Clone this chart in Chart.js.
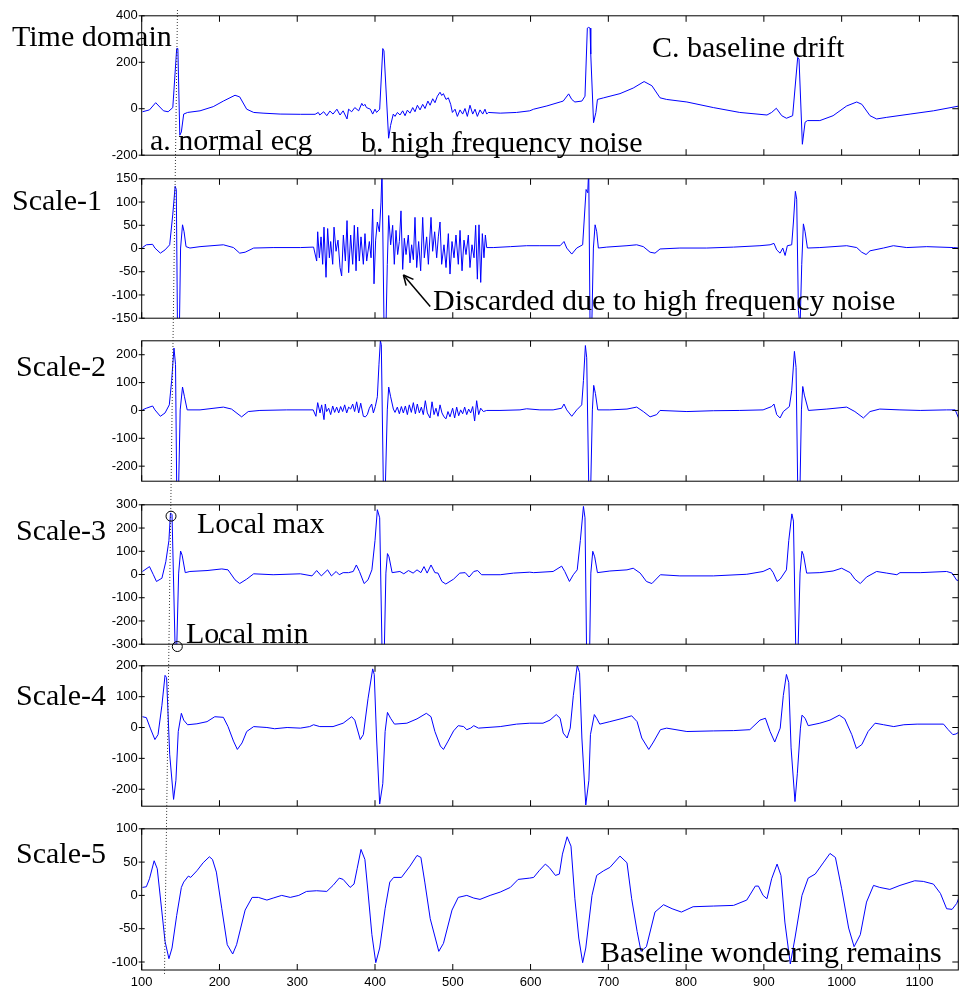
<!DOCTYPE html>
<html>
<head>
<meta charset="utf-8">
<script src="https://cdn.jsdelivr.net/npm/chart.js@4.4.0/dist/chart.umd.min.js"></script>
<style>
  body { margin: 0; background: #fff; width: 960px; height: 989px; position: relative; overflow: hidden; }
  canvas { position: absolute; left: 0; }
  .t { position: absolute; font-family: "Liberation Serif", "Times New Roman", serif; font-size: 30px; line-height: 30px; white-space: nowrap; color: #000; }
</style>
</head>
<body>
<script>
// x ticks shared by all panels
const xTicks = [100, 200, 300, 400, 500, 600, 700, 800, 900, 1000, 1100];

// y tick labels per panel
const timeTicks = [-200, 0, 200, 400];
const s1Ticks = [-150, -100, -50, 0, 50, 100, 150];
const s2Ticks = [-200, -100, 0, 100, 200];
const s3Ticks = [-300, -200, -100, 0, 100, 200, 300];
const s4Ticks = [-200, -100, 0, 100, 200];
const s5Ticks = [-100, -50, 0, 50, 100];

// signals, [sample, value]
const timeDomain = [[101,-13],[110,-5],[118,26],[128,-9],[134,-13],[140,5],[145,259],[146.5,259],[149,-114],[151,-100],[154,-23],[159,-16],[175,-9],[192,9],[205,33],[220,58],[226,51],[235,-2],[244,-16],[256,-19],[278,-23],[304,-24],[323,-24],
  [327,-16],[329,-27],[334,-13],[338,-30],[342,-10],[346,-23],[351,-2],[355,-27],[359,-9],[364,-44],[366,-2],[370,-13],[374,5],[379,-9],[383,23],[385,12],[387,19],[389,5],[394,-2],[397,-23],[400,-2],[402,-16],[406,-2],[410,259],[411.5,249],[417.5,-127],[420,-72],[423.5,-23],
  [425.7,-33],[428.8,-16],[432.1,-27],[435.6,-9],[438.6,-30],[441.6,-6],[445,-19],[448.5,5],[451.4,-13],[454.5,15],[457.9,-5],[461.3,19],[464.3,1],[468,33],[470.8,15],[474.2,43],[477.1,26],[480.2,54],[483.6,71],[485.8,57],[487.9,65],[491.3,40],[494.3,47],[497.3,19],[499.5,-16],[502.9,-2],[505.9,-33],[509.3,-5],[512.7,-23],[515.7,1],[518.7,-33],[522.1,15],[525.6,-23],[528.6,-2],[531.6,-33],[535,-5],[538.5,-23],[541.4,-2],[543.6,-23],[545.7,-16],[561,-19],[582,-16],[599,-9],
  [604,-2],[621,12],[638,29],[642,33],[649,64],[653,40],[657,29],[666,33],[670,54],[673,347],[674.5,350],[676.5,347],[677.4,235],[681,-60],[684,-16],[686,40],[694,47],[715,65],[732,89],[746,117],[756,99],[766.5,47],[775,40],[801,29],[835,5],[869,-16],[904,-27],[910,-16],[916,2],[923,-30],[929,-41],[937,-30],[943.5,221],[945.2,214],[949.5,-153],[953,-58],[956,-51],[972,-51],[989,-30],[1006.5,12],[1019.4,29],[1026,19],[1036.5,-30],[1045,-44],[1058,-37],[1088,-23],[1118,-9],[1151.5,12]];

const scale1 = [[101,2],[106,8],[114,9],[117,1],[124,-10],[130,-3],[136,8],[140,74],[143,134],[144.5,127],[146,-170],[148.5,-170],[150,1],[152.5,51],[154.5,36],[157,4],[162,1],[175,4],[205,8],[218,2],[226,-10],[233,-8],[244,1],[269,2],[304,2],[321,3],
  [325,-27],[326.3,36],[328.4,-20],[330.6,25],[332.7,-34],[334.4,46],[337,-62],[339.1,43],[341.3,-20],[343,15],[345.6,-34],[347.3,46],[349.9,-6],[352.4,18],[355,-41],[357.1,-59],[359.3,29],[361.9,-27],[364,60],[366.1,-52],[368.7,29],[371.3,-34],[373.4,50],[375.6,-48],[377.7,46],[379.8,-27],[382,25],[385,-34],[387.1,32],[389.3,-27],[392.7,15],[394.9,-20],[397,85],[398.7,-76],[400.8,18],[403,57],[405.6,36],[407.7,100],[409,170],[411.6,-170],[414.1,-170],[415.8,-34],[417.6,71],[420.1,8],[422.7,50],[424.8,-34],[427,39],[429.1,-13],[431.3,15],[433.4,81],[435.6,-45],[437.7,22],[439.9,-13],[442.8,29],[445,-31],[447.1,8],[449.3,-24],[451.4,67],[453.6,-41],[456.1,15],[458.7,-48],[461.3,67],[463.4,-20],[466.4,25],[468.6,-34],[472,67],[474.1,-6],[476.7,36],[479.3,-20],[481.4,25],[483.6,57],[485.7,-34],[488.7,8],[491.3,-41],[494.3,32],[496.4,-55],[499,15],[501.6,-20],[504.1,29],[507.1,-34],[509.3,39],[511.9,-48],[514.4,18],[517,-13],[520,29],[522.1,-41],[524.7,8],[527.3,-20],[529.4,50],[531.6,-66],[533.7,51],[535.9,-73],[538,32],[540.1,-20],[541.9,29],[543.6,2],[552,2],[574,4],[595,6],
  [612,6],[638,6],[643,15],[646.5,1],[653,-12],[659.4,1],[667,8],[668.8,57],[671.4,127],[673.5,120],[674.8,170],[676.5,-170],[678.7,-170],[680.8,1],[683,51],[685.1,36],[687.2,1],[698,3],[724,6],[736.5,8],[745,4],[753.7,-8],[760,-10],[766.5,-1],[792,1],[826.5,1],[861,3],[895,6],[908,8],[913,11],[916.5,-3],[920.8,-10],[924.3,1],[927.3,-15],[930.2,6],[935.8,8],[938,57],[940.5,123],[942.2,106],[944.4,-133],[946.5,-170],[948.7,-34],[950.8,53],[953,36],[956,1],[972,2],[1006.5,6],[1019.4,2],[1025.8,-8],[1031.4,-13],[1036.5,-5],[1053.7,1],[1066.5,6],[1083.7,2],[1109.4,4],[1143.7,2],[1151.5,1]];

const scale2 = [[101,2],[106,8],[114,16],[117,2],[124,-21],[130,-9],[135.5,20],[138.5,107],[141.5,224],[143.5,165],[145,-270],[147.5,-270],[149.5,2],[152.5,84],[155,49],[158.5,2],[175,2],[205,12],[215.5,5],[228.5,-23],[237,-4],[252,0],[286.5,2],[320.5,2],
  [324,-21],[326.3,28],[329.3,-9],[331.4,20],[334.4,-33],[336.1,23],[337.8,-4],[340.4,8],[343,-15],[345.6,16],[348.1,-7],[350.7,12],[353.3,-9],[355.8,14],[358.4,-4],[361,20],[363.6,-9],[366.1,12],[368.7,5],[371.3,23],[373.8,-4],[376.4,31],[379,-9],[381.6,26],[385,-21],[387.6,-23],[390.1,-15],[392.7,8],[395.7,23],[397.9,-9],[400.4,14],[403,49],[405.1,166],[406.9,250],[408.1,236],[410.7,-270],[413.3,-270],[415.8,2],[417.6,84],[420.1,49],[423.6,5],
  [425.7,-7],[428.7,12],[431.3,-12],[433.9,14],[436.4,-9],[439,16],[441.6,-15],[444.1,20],[446.7,-7],[449.3,28],[451.9,-12],[454.4,23],[457,-9],[459.6,12],[462.1,-15],[464.7,35],[467.3,-9],[470.7,-27],[473.3,31],[475.9,-15],[478.4,8],[481,-21],[483.6,20],[486.1,-9],[488.7,-23],[491.3,-30],[493.8,-4],[496.4,-23],[499.8,8],[502.4,-27],[505,12],[507.6,-19],[510.1,2],[512.7,-12],[515.3,12],[517.9,-15],[520.4,5],[523,-9],[525.6,14],[528.1,-38],[530.7,35],[533.3,-15],[535.9,8],[539.3,-4],[543.6,0],[560.7,0],[586.4,2],[595,6],
  [612,2],[629,2],[640,8],[643,23],[646.5,2],[653,-21],[659.4,2],[665.8,20],[668,107],[670.5,233],[672.2,189],[674.8,-270],[677.4,-270],[679.5,2],[681.2,90],[683.4,61],[686.4,2],[702,2],[724,5],[736.5,12],[745,-4],[753.7,-23],[762.2,-15],[766.5,0],[801,-4],[835,-1],[869,0],[899,2],[910,14],[913,23],[916.5,-15],[920.8,-27],[925,-4],[932.8,14],[935.8,72],[939.3,212],[941.4,154],[943.5,-270],[946.5,-270],[948.3,2],[950,86],[952.1,55],[957.3,0],[981,5],[1006.5,12],[1017,-4],[1028,-27],[1036.5,-4],[1049,5],[1075,2],[1101,0],[1135,2],[1146,2],[1151.5,-35]];

const scale3 = [[101,13],[110,34],[115,-1],[119,-30],[126,-16],[131,55],[135,146],[137,265],[139,258],[143,-320],[145,-320],[147.5,6],[150,101],[152,83],[156,8],[162,13],[184,17],[203,24],[211,20],[220,-23],[226,-39],[235,-20],[244,3],[269,-1],[304,3],[319,-6],[325,17],[331,-6],[339,20],[344,-6],[350,13],[354,-1],[359,8],[366,8],[372,13],[376,41],[380,13],[386,-39],[391,-23],[396,20],[400,146],[403,279],[406,244],[409,-320],[412,-320],[414,6],[416,90],[418,76],[422,8],[432,13],[437,3],[443,17],[449,6],[454,20],[459,8],[463,34],[467,6],[472,41],[477,8],[481,6],[486,-30],[491,-41],[501,-20],[509,6],[516,8],[521,-11],[527,13],[532,17],[537,-1],[561,-1],[578,6],[599,10],
  [604,8],[629,13],[640,36],[644,13],[650,-30],[655,-1],[660,20],[664,146],[668,293],[670,244],[672,-320],[676,-320],[677.5,6],[680,100],[682.5,76],[686,8],[702,15],[724,20],[732,27],[741,6],[749,-30],[756,-39],[767,-1],[792,-6],[835,-6],[878,1],[899,13],[908,27],[912,8],[917,-30],[921,-20],[929,20],[932,146],[936,261],[938,230],[941,-320],[944,-320],[946.5,6],[949,100],[951,83],[955,6],[972,8],[989,15],[1000,27],[1011,8],[1017,-20],[1024,-39],[1032,-11],[1045,13],[1058,6],[1071,-1],[1075,8],[1101,8],[1135,13],[1142,6],[1148,-25],[1152,-25]];

const scale4 = [[101,35],[106,32],[111,-2],[117,-39],[121,-23],[126,72],[130,169],[132,162],[136,-87],[141,-233],[144,-171],[147,-13],[151,46],[154,24],[159,9],[171,12],[184,19],[194,35],[205,33],[211,3],[218,-44],[223,-71],[229,-50],[235,-13],[244,3],[261,0],[271,-4],[287,0],[304,-2],[316,3],[321,9],[329,3],[346,3],[359,14],[370,35],[374,24],[381,-39],[385,-23],[391,93],[397,190],[399,172],[402,-34],[406,-248],[410,-182],[413,-13],[416,49],[420,30],[425,11],[441,14],[454,28],[466,46],[472,35],[477,-13],[484,-60],[488,-71],[494,-44],[501,-11],[507,6],[514,3],[518,-7],[523,-2],[527,6],[533,-2],[544,0],[561,3],[582,11],[599,14],
  [616,14],[625,24],[633,42],[638,30],[642,-18],[647,-34],[651,-2],[655,104],[660,201],[663,178],[666,-34],[671,-251],[675,-171],[677,-23],[682,42],[685,30],[689,11],[702,19],[719,30],[730,38],[737,19],[743,-34],[752,-71],[758,-47],[767,-7],[775,-2],[801,-13],[835,-11],[861,-10],[882,-7],[895,24],[902,30],[908,-13],[914,-47],[921,-2],[925,104],[929,172],[932,146],[935,-66],[940,-240],[943,-150],[947,-2],[949,40],[953,30],[957,6],[972,14],[985,24],[997,40],[1004,28],[1013,-23],[1019,-68],[1026,-55],[1034,-13],[1043,14],[1054,9],[1067,3],[1080,9],[1097,11],[1131,11],[1137,-7],[1143,-23],[1147,-21],[1152,-13]];

const scale5 = [[101,12],[106,13],[110,25],[116,52],[120,40],[126,-25],[130,-69],[135,-95],[139,-79],[145,-30],[151,12],[154,20],[160,29],[163,27],[171,37],[179,49],[187,58],[191,54],[196,35],[203,-20],[210,-74],[217,-88],[222,-74],[233,-22],[242,-3],[250,-3],[261,-7],[269,-4],[280,0],[291,-3],[302,0],[312,6],[325,7],[338,6],[346,15],[354,26],[359,24],[368,12],[373,17],[377,40],[382,69],[387,54],[391,5],[396,-59],[401,-101],[406,-79],[413,-20],[419,20],[424,27],[434,27],[445,44],[454,60],[459,57],[464,20],[471,-35],[482,-84],[488,-72],[499,-22],[507,-3],[518,0],[527,-4],[535,-6],[548,0],[561,5],[574,12],[584,24],[599,26],
  [604,27],[611,37],[619,47],[624,42],[632,30],[637,32],[641,62],[647,88],[652,74],[657,-5],[662,-64],[667,-101],[671,-79],[679,0],[685,30],[694,37],[702,42],[715,59],[724,49],[730,-5],[737,-54],[742,-84],[749,-77],[760,-25],[771,-14],[782,-20],[794,-25],[809,-17],[835,-16],[861,-15],[878,-7],[889,14],[893,14],[899,0],[904,-5],[910,25],[917,47],[922,30],[927,-40],[934,-103],[940,-64],[949,0],[957,26],[966,32],[977,50],[985,63],[992,57],[1000,10],[1009,-49],[1016,-77],[1024,-59],[1032,-10],[1041,15],[1049,12],[1062,9],[1075,15],[1094,22],[1105,21],[1118,17],[1127,3],[1135,-20],[1142,-21],[1148,-12],[1152,0]];

const PAD = 10, XAX = 22, TL = 6;

const panels = [
  { data: timeDomain, min: -200, max: 400, ticks: timeTicks, top: 14, bottom: 157.3 },
  { data: scale1, min: -150, max: 150, ticks: s1Ticks, top: 177.3, bottom: 320 },
  { data: scale2, min: -254, max: 250, ticks: s2Ticks, top: 339.3, bottom: 483.3 },
  { data: scale3, min: -300, max: 300, ticks: s3Ticks, top: 503.3, bottom: 646 },
  { data: scale4, min: -255, max: 200, ticks: s4Ticks, top: 664.3, bottom: 808.3 },
  { data: scale5, min: -112, max: 100, ticks: s5Ticks, top: 827.3, bottom: 970.7 }
];

function seg(ctx, x1, y1, x2, y2) {
  ctx.beginPath(); ctx.moveTo(x1, y1); ctx.lineTo(x2, y2); ctx.stroke();
}

const framePlugin = {
  id: 'frame',
  afterDraw(chart, args, opts) {
    const { ctx, chartArea: a, scales: { x, y } } = chart;
    ctx.save();
    ctx.strokeStyle = '#000';
    ctx.lineWidth = 1;
    ctx.strokeRect(a.left, a.top, a.width, a.height);
    xTicks.forEach(v => {
      const px = x.getPixelForValue(v);
      seg(ctx, px, a.top, px, a.top + TL);
      seg(ctx, px, a.bottom, px, a.bottom - TL);
    });
    y.ticks.forEach(t => {
      const py = y.getPixelForValue(t.value);
      seg(ctx, a.left - 3, py, a.left + 3, py);
      seg(ctx, a.right, py, a.right - TL, py);
    });
    if (opts.extra) opts.extra(chart, ctx);
    ctx.restore();
  }
};

// arrow on scale-1, circles on scale-3
const extras = [
  null,
  (chart, ctx) => {
    const { x, y } = chart.scales;
    const tx = x.getPixelForValue(436.5), ty = y.getPixelForValue(-57);
    const sx = x.getPixelForValue(471), sy = y.getPixelForValue(-125);
    ctx.lineWidth = 1.5;
    seg(ctx, sx, sy, tx, ty);
    const ang = Math.atan2(ty - sy, tx - sx);
    [0.45, -0.45].forEach(d => {
      seg(ctx, tx, ty, tx - 11 * Math.cos(ang + d), ty - 11 * Math.sin(ang + d));
    });
  },
  null,
  (chart, ctx) => {
    const { x, y } = chart.scales;
    [[137.7, 251], [145.8, -310]].forEach(p => {
      ctx.beginPath();
      ctx.arc(x.getPixelForValue(p[0]), y.getPixelForValue(p[1]), 5, 0, Math.PI * 2);
      ctx.stroke();
    });
  },
  null,
  null
];

const charts = panels.map((p, i) => {
  const last = i === panels.length - 1;
  const cv = document.createElement('canvas');
  const h = (p.bottom - p.top) + PAD + (last ? XAX : PAD);
  cv.width = 960; cv.height = Math.round(h);
  cv.style.top = (p.top - PAD) + 'px';
  document.body.appendChild(cv);
  const tickFont = { family: '"Liberation Sans", Arial, sans-serif', size: 13 };
  return new Chart(cv, {
    type: 'line',
    data: {
      datasets: [{
        data: p.data.map(d => ({ x: d[0], y: d[1] })),
        borderColor: '#0000ff',
        borderWidth: 1,
        pointRadius: 0,
        tension: 0
      }]
    },
    options: {
      responsive: false,
      animation: false,
      events: [],
      layout: { padding: { top: PAD, bottom: last ? 0 : PAD, left: 0, right: 1.7 } },
      plugins: { legend: { display: false }, tooltip: { enabled: false }, frame: { extra: extras[i] } },
      scales: {
        x: {
          type: 'linear', min: 100, max: 1150, display: last,
          afterBuildTicks: s => { s.ticks = xTicks.map(v => ({ value: v })); },
          afterFit: s => { s.height = last ? XAX : 0; },
          grid: { display: false, drawTicks: false },
          border: { display: false },
          ticks: { color: '#000', font: tickFont, padding: 5, maxRotation: 0, autoSkip: false, callback: v => String(v) }
        },
        y: {
          type: 'linear', min: p.min, max: p.max,
          afterBuildTicks: s => { s.ticks = p.ticks.map(v => ({ value: v })); },
          afterFit: s => { s.width = 141.7; },
          grid: { display: false, drawTicks: false },
          border: { display: false },
          ticks: { color: '#000', font: tickFont, padding: 4, autoSkip: false, callback: v => String(v) }
        }
      }
    },
    plugins: [framePlugin]
  });
});

// dotted alignment line drawn across all panels
const ov = document.createElement('canvas');
ov.width = 960; ov.height = 989; ov.style.top = '0px';
document.body.appendChild(ov);
const octx = ov.getContext('2d');
const topX = charts[0].scales.x.getPixelForValue(146);
const botX = charts[5].scales.x.getPixelForValue(129.3);
octx.strokeStyle = '#333';
octx.lineWidth = 1;
octx.setLineDash([1, 2]);
seg(octx, topX, 10, botX, 975);

const labels = [
  ['Time domain', 12, 21], ['C. baseline drift', 652, 32], ['a. normal ecg', 150, 125], ['b. high frequency noise', 361, 127],
  ['Scale-1', 12, 185], ['Discarded due to high frequency noise', 433, 285],
  ['Scale-2', 16, 351], ['Scale-3', 16, 515], ['Local max', 197, 508], ['Local min', 186, 618],
  ['Scale-4', 16, 680], ['Scale-5', 16, 838], ['Baseline wondering remains', 600, 937]
];
labels.forEach(l => {
  const d = document.createElement('div');
  d.className = 't';
  d.textContent = l[0];
  d.style.left = l[1] + 'px';
  d.style.top = l[2] + 'px';
  document.body.appendChild(d);
});
</script>
</body>
</html>
